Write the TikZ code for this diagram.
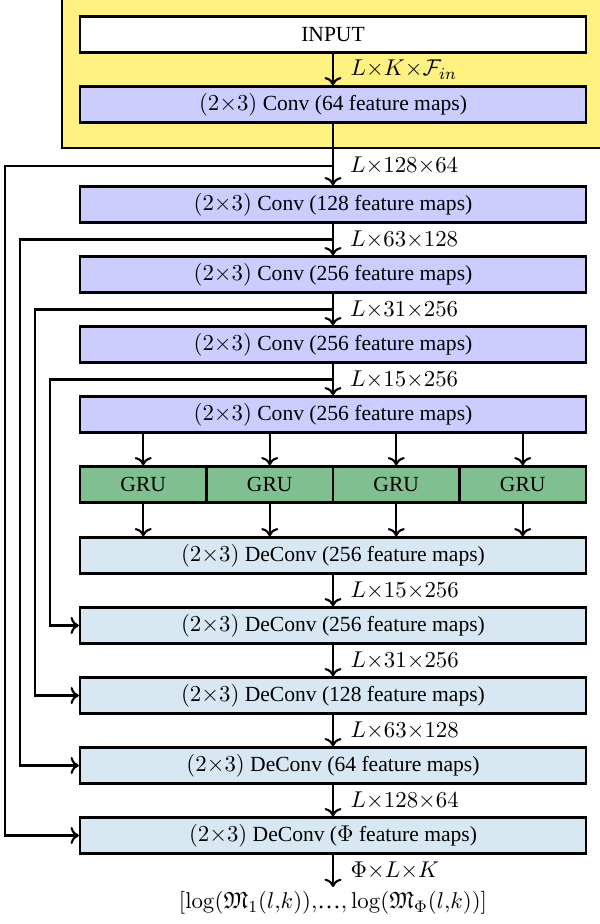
\documentclass[tikz,border=0pt]{standalone}
\usepackage{amssymb}
\usepackage[no-math]{fontspec}
\setmainfont{Liberation Serif}
\usetikzlibrary{arrows.meta}
\definecolor{stageyellow}{RGB}{255,242,128}
\definecolor{convblue}{RGB}{204,204,255}
\definecolor{deconvblue}{RGB}{215,232,243}
\definecolor{grugreen}{RGB}{128,191,143}
% formulas are set a little larger than the surrounding text
\newcommand\fml[1]{{\fontsize{11.3}{13}\selectfont$#1$}}
\begin{document}
\begin{tikzpicture}[x=0.48pt,y=-0.48pt,
  every node/.style={font=\fontsize{10.35}{12}\selectfont},
  layer/.style={draw,line width=1.05pt,minimum width=242.9pt,minimum height=17.3pt,inner sep=0pt},
  conv/.style={layer,fill=convblue},
  deconv/.style={layer,fill=deconvblue},
  gru/.style={layer,fill=grugreen,minimum width=60.7pt},
  wire/.style={line width=1pt},
  flow/.style={wire,-{To[length=4pt,width=8.2pt]}},
  dim/.style={anchor=west,inner sep=0pt,xshift=8pt}]
\useasboundingbox (0,0) rectangle (600,924);
\clip (0,0) rectangle (600,924);

% encoder input stage
\filldraw[fill=stageyellow,line width=1.05pt] (62,-10) rectangle (610,148);
\node[layer,fill=white] (in) at (333,34.5) {INPUT};
\node[conv] (c1) at (333,104.5) {\fml{(2{\times}3)} Conv (64 feature maps)};

% encoder
\node[conv] (c2) at (333,204.5) {\fml{(2{\times}3)} Conv (128 feature maps)};
\node[conv] (c3) at (333,274.5) {\fml{(2{\times}3)} Conv (256 feature maps)};
\node[conv] (c4) at (333,344.5) {\fml{(2{\times}3)} Conv (256 feature maps)};
\node[conv] (c5) at (333,414.5) {\fml{(2{\times}3)} Conv (256 feature maps)};

% recurrent layer
\node[gru] (g1) at (143.25,484.5) {GRU};
\node[gru] (g2) at (269.75,484.5) {GRU};
\node[gru] (g3) at (396.25,484.5) {GRU};
\node[gru] (g4) at (522.75,484.5) {GRU};

% decoder
\node[deconv] (d1) at (333,555.5) {\fml{(2{\times}3)} DeConv (256 feature maps)};
\node[deconv] (d2) at (333,625.5) {\fml{(2{\times}3)} DeConv (256 feature maps)};
\node[deconv] (d3) at (333,695.5) {\fml{(2{\times}3)} DeConv (128 feature maps)};
\node[deconv] (d4) at (333,765.5) {\fml{(2{\times}3)} DeConv (64 feature maps)};
\node[deconv] (d5) at (333,835.5) {\fml{(2{\times}3)} DeConv (\fml{\Phi} feature maps)};
\node[inner sep=2pt] (out) at (333,903)
  {\fml{[\log(\mathfrak{M}_1(l{,}k)){,}\mbox{…}{,}\log(\mathfrak{M}_\Phi(l{,}k))]}};

% skip-connection branch points
\coordinate (s1) at (333,166);
\coordinate (s2) at (333,239.5);
\coordinate (s3) at (333,309.5);
\coordinate (s4) at (333,379.5);

% main path
\draw[flow] (in) -- (c1) node[midway,dim] {\fml{L{\times}K{\times}\mathcal{F}_{in}}};
\draw[flow] (c1) -- (c2);
\node[dim] at (s1) {\fml{L{\times}128{\times}64}};
\draw[flow] (c2) -- (c3);
\node[dim] at (s2) {\fml{L{\times}63{\times}128}};
\draw[flow] (c3) -- (c4);
\node[dim] at (s3) {\fml{L{\times}31{\times}256}};
\draw[flow] (c4) -- (c5);
\node[dim] at (s4) {\fml{L{\times}15{\times}256}};

\foreach \g in {g1,g2,g3,g4} {
  \draw[flow] (c5.south -| \g) -- (\g.north);
  \draw[flow] (\g.south) -- (d1.north -| \g);
}

\draw[flow] (d1) -- (d2) node[midway,dim] {\fml{L{\times}15{\times}256}};
\draw[flow] (d2) -- (d3) node[midway,dim] {\fml{L{\times}31{\times}256}};
\draw[flow] (d3) -- (d4) node[midway,dim] {\fml{L{\times}63{\times}128}};
\draw[flow] (d4) -- (d5) node[midway,dim] {\fml{L{\times}128{\times}64}};
\draw[flow] (d5) -- (out) node[midway,dim] {\fml{\Phi{\times}L{\times}K}};

% skip connections
\draw[flow] (s1) -- (5,166) |- (d5.west);
\draw[flow] (s2) -- (20,239.5) |- (d4.west);
\draw[flow] (s3) -- (35,309.5) |- (d3.west);
\draw[flow] (s4) -- (50,379.5) |- (d2.west);
\end{tikzpicture}
\end{document}
